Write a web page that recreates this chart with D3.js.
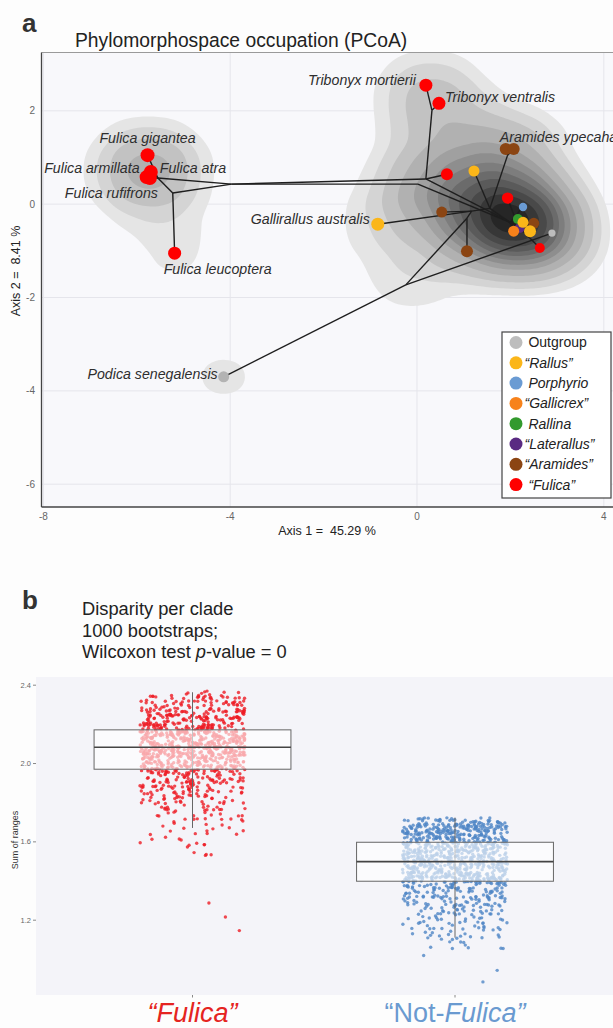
<!DOCTYPE html>
<html><head><meta charset="utf-8">
<script src="https://cdn.jsdelivr.net/npm/d3@7"></script>
<style>
html,body{margin:0;padding:0;background:#fff;}
svg{display:block;font-family:"Liberation Sans",Arial,sans-serif;}
</style></head><body>
<svg id="c" width="613" height="1028"></svg>
<script>
// ================= DATA: panel a (PCoA phylomorphospace) =================
const groups = ["Outgroup","Rallus","Porphyrio","Gallicrex","Rallina","Laterallus","Aramides","Fulica"];
const legendLabels = [" Outgroup","“Rallus”"," Porphyrio","“Gallicrex”"," Rallina","“Laterallus”","“Aramides”"," “Fulica”"];
const groupColors = ["#bdbdbd","#fbb619","#6a9bd3","#f7821b","#339a2e","#5a2a82","#8b4513","#ff0000"];

const tipId    = ["podica","gray","brown1","brown2","gall","yel1","aram1","aram2","redA","mort","vent","redB","blue","brown3","purple","green","yel2","orange","yel3","redC","gig","arm","atra","ruf","leuc"];
const tipX     = [-4.14, 2.89, 0.53, 1.07,-0.84, 1.22, 1.90, 2.07, 0.64, 0.19, 0.47, 1.94, 2.27, 2.50, 2.20, 2.16, 2.27, 2.07, 2.42, 2.63,-5.77,-5.79,-5.70,-5.72,-5.19];
const tipY     = [-3.70,-0.62,-0.17,-1.01,-0.43, 0.71, 1.18, 1.18, 0.64, 2.55, 2.16, 0.13,-0.06,-0.41,-0.51,-0.32,-0.39,-0.58,-0.58,-0.94, 1.05, 0.58, 0.69, 0.56,-1.05];
const tipGroup = ["Outgroup","Outgroup","Aramides","Aramides","Rallus","Rallus","Aramides","Aramides","Fulica","Fulica","Fulica","Fulica","Porphyrio","Aramides","Laterallus","Rallina","Rallus","Gallicrex","Rallus","Fulica","Fulica","Fulica","Fulica","Fulica","Fulica"];
const tipLabel = ["Podica senegalensis","","","","Gallirallus australis","","Aramides ypecaha","","","Tribonyx mortierii","Tribonyx ventralis","","","","","","","","","","Fulica gigantea","Fulica armillata","Fulica atra","Fulica rufifrons","Fulica leucoptera"];

// reconstructed ancestral nodes (also part of the occupied space)
const nodeId = ["R","Nb","Ng","Nc","Nd","Nk","Nm","N2","NT","Ntr"];
const nodeX  = [-0.24, 1.07, 1.17, 1.56, 1.94, 1.99, 2.16, 0.02, 0.19, 0.32];
const nodeY  = [-1.73,-0.30,-0.15,-0.09, 1.05,-0.39,-0.47, 0.43, 0.54, 2.01];
// line-only junctions
const junctionId = ["FN","F1","F2"];
const junctionX  = [-3.97,-5.55,-5.23];
const junctionY  = [ 0.43, 0.56, 0.24];

const edgeFrom = ["R","R","R","Nb","Nb","Ng","Ng","Ng","Nc","Nc","Nc","Nd","Nd","Nk","Nk","Nk","Nk","Nk","Nk","Nm","Nm","Nm","Nm","Nm","Nm","NT","NT","NT","N2","Ntr","Ntr","FN","FN","F1","F1","F1","F1","F1","F2"];
const edgeTo   = ["podica","gray","Nb","brown2","Ng","gall","brown1","Nc","yel1","Nd","Nk","aram1","aram2","blue","green","purple","orange","Nm","N2","yel2","yel3","brown3","redB","redC","NT","Ntr","redA","FN","FN","mort","vent","F1","F2","F2","gig","arm","atra","ruf","leuc"];

const xTicksA = [-8,-4,0,4];
const yTicksA = [-6,-4,-2,0,2];

// ================= DATA: panel b (bootstrapped disparity) =================
const clades = ["“Fulica”","“Not-Fulica”"];
// value bins [low, high, count] read from the jittered clouds (1000 bootstraps each)
const fulicaBins = [[2.35,2.37,8],[2.30,2.35,47],[2.25,2.30,62],[2.20,2.25,80],[2.15,2.20,110],[2.10,2.15,135],[2.05,2.10,135],[2.00,2.05,120],[1.95,2.00,90],[1.90,1.95,60],[1.85,1.90,45],[1.80,1.85,35],[1.75,1.80,25],[1.70,1.75,17],[1.65,1.70,10],[1.60,1.65,8],[1.55,1.60,6],[1.50,1.55,4]];
const fulicaOutliers = [1.288,1.216,1.147];
const notFulicaBins = [[1.70,1.725,30],[1.65,1.70,120],[1.60,1.65,110],[1.55,1.60,125],[1.50,1.55,120],[1.45,1.50,115],[1.40,1.45,128],[1.35,1.40,70],[1.30,1.35,55],[1.25,1.30,40],[1.20,1.25,32],[1.15,1.20,25],[1.10,1.15,18],[1.05,1.10,9]];
const notFulicaOutliers = [1.02,0.944,0.885];
const boxQ1  = [1.971,1.399];
const boxMed = [2.083,1.499];
const boxQ3  = [2.172,1.598];
const whiskLo = [1.671,1.111];
const whiskHi = [2.364,1.724];
const yTicksB = [1.2,1.6,2.0,2.4];

// ================= STYLE (positions / sizes) =================
const tipRadius = {podica:5.5,gray:3.6,brown1:5.5,brown2:6,gall:6.5,yel1:5.5,aram1:6,aram2:6,redA:6,mort:6.5,vent:6.5,redB:5.7,blue:4.2,brown3:5.5,purple:5,green:5,yel2:5.5,orange:5.5,yel3:6,redC:5,gig:7,arm:7,atra:7,ruf:7,leuc:6.5};
const labelPos = {
  podica:{dx:-6,dy:-3,a:"end"}, gall:{dx:-8,dy:-5,a:"end"}, aram1:{dx:-6,dy:-12,a:"start"},
  mort:{dx:-10,dy:-5,a:"end"}, vent:{dx:6,dy:-6,a:"start"}, gig:{dx:0,dy:-17,a:"middle"},
  arm:{dx:-7,dy:-9,a:"end"}, atra:{dx:9,dy:-4,a:"start"}, ruf:{dx:8,dy:15,a:"end"}, leuc:{dx:-11,dy:16,a:"start"}
};

const svg = d3.select("#c");
svg.append("rect").attr("width",613).attr("height",1028).attr("fill","#fdfdfd");

// ---------------- panel a ----------------
const A = {left:41.5, right:614, top:52.5, bottom:507};
const x = d3.scaleLinear().domain([-8,4]).range([43.4,603.8]);
const y = d3.scaleLinear().domain([-6,2]).range([484.2,110.8]);
const color = d3.scaleOrdinal().domain(groups).range(groupColors);

svg.append("defs").append("clipPath").attr("id","clipA").append("rect")
  .attr("x",A.left).attr("y",A.top).attr("width",A.right-A.left).attr("height",A.bottom-A.top);
svg.append("rect").attr("x",A.left).attr("y",A.top).attr("width",A.right-A.left).attr("height",A.bottom-A.top).attr("fill","#f8f8fb");
const gA = svg.append("g").attr("clip-path","url(#clipA)");
gA.selectAll(".gx").data(xTicksA).join("line").attr("x1",d=>x(d)).attr("x2",d=>x(d)).attr("y1",A.top).attr("y2",A.bottom).attr("stroke","#e5e5eb").attr("stroke-width",1);
gA.selectAll(".gy").data(yTicksA).join("line").attr("y1",d=>y(d)).attr("y2",d=>y(d)).attr("x1",A.left).attr("x2",A.right).attr("stroke","#e5e5eb").attr("stroke-width",1);

const tips = tipId.map((id,i)=>({id,x:tipX[i],y:tipY[i],g:tipGroup[i],label:tipLabel[i]}));
const nodes = nodeId.map((id,i)=>({id,x:nodeX[i],y:nodeY[i]}));
const junctions = junctionId.map((id,i)=>({id,x:junctionX[i],y:junctionY[i]}));
const byId = new Map();
tips.concat(nodes,junctions).forEach(d=>byId.set(d.id,d));

// density contours (slightly wider kernel along axis 1)
const sx = 1.25, sigma = 28;
const peak = 1/(2*Math.PI*sigma*sigma);
const levelMult = [0.75,1.3,2.0,2.9,3.9,4.8,5.7,6.6,7.5,8.5,9.5,10.5];
const levels = levelMult.map(m=>m*peak);
const dens = d3.contourDensity().x(d=>x(d.x)/sx).y(d=>y(d.y)).size([640/sx,560]).cellSize(2).bandwidth(sigma).thresholds(levels)(tips.concat(nodes));
const stretch = d3.geoTransform({point(px,py){this.stream.point(px*sx,py);}});
const shade = d3.scaleLinear().domain([0,levels.length-1]).range(["#e5e5e5","#262626"]);
gA.selectAll(".dens").data(dens).join("path").attr("d",d3.geoPath(stretch)).attr("fill",(d,i)=>shade(i)).attr("stroke","none");

// tree edges
const edges = edgeFrom.map((f,i)=>({s:byId.get(f),t:byId.get(edgeTo[i])}));
gA.selectAll(".edge").data(edges).join("line")
  .attr("x1",d=>x(d.s.x)).attr("y1",d=>y(d.s.y)).attr("x2",d=>x(d.t.x)).attr("y2",d=>y(d.t.y))
  .attr("stroke","#1e1e1e").attr("stroke-width",1.4);

// tips
gA.selectAll(".tip").data(tips).join("circle")
  .attr("cx",d=>x(d.x)).attr("cy",d=>y(d.y)).attr("r",d=>tipRadius[d.id])
  .attr("fill",d=>d.id==="podica"?"#b3b3b3":color(d.g));

// labels
svg.selectAll(".lab").data(tips.filter(d=>d.label)).join("text")
  .attr("x",d=>x(d.x)+labelPos[d.id].dx).attr("y",d=>y(d.y)+labelPos[d.id].dy)
  .attr("dy","0.35em").attr("text-anchor",d=>labelPos[d.id].a)
  .attr("font-style","italic").attr("font-size",14.2).attr("fill","#2e2e2e").text(d=>d.label);

// axes a
svg.append("line").attr("x1",A.left).attr("x2",A.right).attr("y1",A.top).attr("y2",A.top).attr("stroke","#9a9a9a").attr("stroke-width",1);
svg.append("line").attr("x1",A.left).attr("x2",A.left).attr("y1",A.top).attr("y2",A.bottom).attr("stroke","#444").attr("stroke-width",1.3);
svg.append("line").attr("x1",A.left).attr("x2",A.right).attr("y1",A.bottom).attr("y2",A.bottom).attr("stroke","#444").attr("stroke-width",1.3);
svg.selectAll(".ytA").data(yTicksA).join("text").attr("x",35).attr("y",d=>y(d)).attr("dy","0.35em")
  .attr("text-anchor","end").attr("font-size",10).attr("fill","#666").text(d=>String(d));
svg.selectAll(".xtA").data(xTicksA).join("text").attr("x",d=>x(d)).attr("y",516).attr("dy","0.35em")
  .attr("text-anchor","middle").attr("font-size",10).attr("fill","#666").text(d=>String(d));
svg.append("text").attr("x",327).attr("y",531).attr("dy","0.35em").attr("text-anchor","middle").attr("font-size",12.5)
  .attr("fill","#222").style("white-space","pre").text("Axis 1 =  45.29 %");
svg.append("text").attr("transform","translate(16,271) rotate(-90)").attr("dy","0.35em").attr("text-anchor","middle")
  .attr("font-size",12.5).attr("fill","#222").style("white-space","pre").text("Axis 2 =  8.41 %");
svg.append("text").attr("x",22).attr("y",32).attr("font-size",26).attr("font-weight","bold").attr("fill","#333").text("a");
svg.append("text").attr("x",75).attr("y",47).attr("font-size",19.3).attr("fill","#222").text("Phylomorphospace occupation (PCoA)");

// legend
const L = {x:502,y:332,w:109,h:166};
svg.append("rect").attr("x",L.x).attr("y",L.y).attr("width",L.w).attr("height",L.h).attr("fill","#fff").attr("stroke","#444").attr("stroke-width",1.2);
const lg = svg.selectAll(".lg").data(groups).join("g").attr("transform",(d,i)=>`translate(516,${342.5+i*20.3})`);
lg.append("circle").attr("r",6.5).attr("fill",d=>color(d));
lg.append("text").attr("x",8.5).attr("dy","0.35em").attr("font-size",14).attr("fill","#222")
  .attr("font-style",(d,i)=>i===0?"normal":"italic").style("white-space","pre").text((d,i)=>legendLabels[i]);

// ---------------- panel b ----------------
const B = {left:36, right:613, top:677, bottom:995};
const xb = d3.scaleLinear().domain([0.4,2.6]).range([35,612.5]);
const yb = d3.scaleLinear().domain([1.2,2.4]).range([920.2,685.2]);
svg.append("text").attr("x",22).attr("y",609).attr("font-size",26).attr("font-weight","bold").attr("fill","#333").text("b");
const tb = svg.append("text").attr("font-size",18.3).attr("fill","#222");
tb.append("tspan").attr("x",82).attr("y",615).text("Disparity per clade");
tb.append("tspan").attr("x",82).attr("y",637).text("1000 bootstraps;");
tb.append("tspan").attr("x",82).attr("y",658).text("Wilcoxon test ");
tb.append("tspan").attr("font-style","italic").text("p");
tb.append("tspan").text("-value = 0");

svg.append("rect").attr("x",B.left).attr("y",B.top).attr("width",B.right-B.left).attr("height",B.bottom-B.top).attr("fill","#f4f4f9");

// deterministic jitter (layout only)
const jit = n => { const s = Math.sin(n*12.9898+78.233)*43758.5453; return s-Math.floor(s); };
function cloud(bins, outliers, k){
  const pts = [];
  let n = k*5000;
  bins.forEach(([lo,hi,c])=>{ for(let j=0;j<c;j++){ pts.push({k,v:lo+(hi-lo)*jit(n+0.37),u:jit(n+0.71)}); n++; } });
  outliers.forEach(o=>{ pts.push({k,v:o,u:jit(n+0.71)}); n++; });
  return pts;
}
const ptsB = cloud(fulicaBins,fulicaOutliers,1).concat(cloud(notFulicaBins,notFulicaOutliers,2));
const cladeColor = ["#ee1c24","#4f86c6"];
svg.selectAll(".bp").data(ptsB).join("circle")
  .attr("cx",d=>xb(d.k+(d.u-0.5)*0.4)).attr("cy",d=>yb(d.v)).attr("r",1.7)
  .attr("fill",d=>cladeColor[d.k-1]).attr("fill-opacity",0.8);

const boxes = clades.map((c,i)=>({k:i+1,q1:boxQ1[i],med:boxMed[i],q3:boxQ3[i],lo:whiskLo[i],hi:whiskHi[i]}));
svg.selectAll(".wh").data(boxes).join("line").attr("x1",d=>xb(d.k)).attr("x2",d=>xb(d.k)).attr("y1",d=>yb(d.hi)).attr("y2",d=>yb(d.lo)).attr("stroke","#666").attr("stroke-width",1);
svg.selectAll(".bx").data(boxes).join("rect").attr("x",d=>xb(d.k-0.375)).attr("width",d=>xb(d.k+0.375)-xb(d.k-0.375))
  .attr("y",d=>yb(d.q3)).attr("height",d=>yb(d.q1)-yb(d.q3)).attr("fill","#fff").attr("fill-opacity",0.62).attr("stroke","#666").attr("stroke-width",1);
svg.selectAll(".md").data(boxes).join("line").attr("x1",d=>xb(d.k-0.375)).attr("x2",d=>xb(d.k+0.375)).attr("y1",d=>yb(d.med)).attr("y2",d=>yb(d.med)).attr("stroke","#444").attr("stroke-width",1.6);

svg.selectAll(".ytB").data(yTicksB).join("text").attr("x",31).attr("y",d=>yb(d)).attr("dy","0.35em").attr("text-anchor","end")
  .attr("font-size",7.5).attr("fill","#666").text(d=>d3.format(".1f")(d));
svg.selectAll(".ytkB").data(yTicksB).join("line").attr("x1",33).attr("x2",B.left).attr("y1",d=>yb(d)).attr("y2",d=>yb(d)).attr("stroke","#888");
svg.selectAll(".xtkB").data([1,2]).join("line").attr("x1",d=>xb(d)).attr("x2",d=>xb(d)).attr("y1",B.bottom).attr("y2",B.bottom+2.5).attr("stroke","#888");
svg.append("text").attr("transform","translate(15,840) rotate(-90)").attr("dy","0.35em").attr("text-anchor","middle").attr("font-size",9).attr("fill","#333").text("Sum of ranges");

svg.append("text").attr("x",xb(1)).attr("y",1022).attr("text-anchor","middle").attr("font-size",27).attr("font-style","italic").attr("fill","#e52421").text(clades[0]);
const nf = svg.append("text").attr("x",xb(2)).attr("y",1022).attr("text-anchor","middle").attr("font-size",27).attr("fill","#6a9ad0");
nf.append("tspan").text("“Not-");
nf.append("tspan").attr("font-style","italic").text("Fulica”");
</script></body></html>
